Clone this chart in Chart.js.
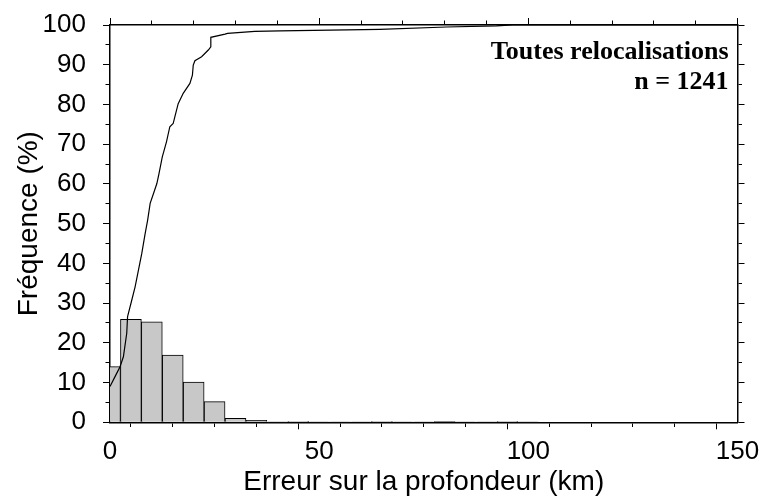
<!DOCTYPE html>
<html>
<head>
<meta charset="utf-8">
<script src="https://cdn.jsdelivr.net/npm/chart.js@4"></script>
<style>
  html, body { margin: 0; padding: 0; background: #fff; }
  #wrap { width: 764px; height: 497px; }
</style>
</head>
<body>
<div id="wrap"><canvas id="myChart"></canvas></div>
<script>
// histogram: bin centres (km) and frequency (%)
const binCenters = [0, 5, 10, 15, 20, 25, 30, 35, 40, 45, 50, 55, 60, 65, 70, 75, 80, 85, 90, 95, 100, 105, 110, 115, 120, 125, 130, 135, 140, 145, 150];
const binFreq = [14.0, 25.9, 25.3, 16.9, 10.1, 5.2, 1.0, 0.5, 0.05, 0.15, 0.05, 0.05, 0.1, 0.2, 0.1, 0.1, 0.25, 0.1, 0.1, 0.15, 0.05, 0, 0, 0, 0, 0, 0, 0, 0, 0, 0];

// cumulative curve
const cumKm = [0, 1.2, 2.4, 3.2, 4.0, 4.2, 5.0, 6.0, 6.8, 7.6, 8.4, 9.0, 9.6, 10.4, 11.2, 11.7, 12.5, 13.5, 14.3, 15.1, 15.5, 16.3, 17.5, 19.1, 19.7, 19.9, 20.3, 21.9, 23.5, 24.1, 24.1, 27.5, 28.1, 34.6, 40.7, 64.5, 80.4, 92.4, 96.3, 150];
const cumPct = [9.0, 11.5, 14.0, 16.5, 22.4, 26.6, 29.9, 34.1, 38.3, 42.5, 47.5, 50.9, 55.1, 57.6, 60.1, 62.5, 66.8, 70.6, 74.4, 75.2, 76.9, 80.2, 82.8, 85.3, 87.4, 89.9, 91.0, 92.0, 93.7, 94.5, 96.9, 97.7, 97.9, 98.4, 98.5, 98.9, 99.5, 99.8, 100, 100];

const xTickLabels = [0, 50, 100, 150];
const yTickLabels = [0, 10, 20, 30, 40, 50, 60, 70, 80, 90, 100];

const noteLines = ["Toutes relocalisations", "n = 1241"];

Chart.defaults.font.family = "Liberation Sans";
Chart.defaults.color = "#000";

const ctx = document.getElementById("myChart");

// minor ticks: draw only part of the tick with a dash pattern
const minorDash = (majors, fromAxis) => (c) => {
  if (!c.tick || majors.includes(c.tick.value)) return [];
  return fromAxis ? [3.5, 100] : [0, 2.5, 4, 100];
};
const frameGrid = (majors, fromAxis) => ({
  display: true,
  drawOnChartArea: false,
  drawTicks: true,
  tickLength: 7,
  tickColor: "#000",
  tickWidth: 1,
  tickBorderDash: minorDash(majors, fromAxis),
});
const frameBorder = { display: true, color: "#000", width: 1.5 };
const xMajors = [0, 50, 100, 150];
const yMajors = [0, 10, 20, 30, 40, 50, 60, 70, 80, 90, 100];

const notePlugin = {
  id: "note",
  afterDatasetsDraw(chart) {
    const c = chart.ctx;
    const a = chart.chartArea;
    c.save();
    c.font = "bold 26px 'Liberation Serif'";
    c.fillStyle = "#000";
    c.textAlign = "right";
    c.textBaseline = "alphabetic";
    c.fillText(noteLines[0], a.right - 9, a.top + 34);
    c.fillText(noteLines[1], a.right - 9, a.top + 64);
    c.restore();
  },
};

new Chart(ctx, {
  data: {
    datasets: [
      {
        type: "line",
        label: "Cumul",
        data: cumKm.map((x, i) => ({ x: x, y: cumPct[i] })),
        borderColor: "#000",
        borderWidth: 1.2,
        pointRadius: 0,
        tension: 0,
        fill: false,
        order: 0,
      },
      {
        type: "bar",
        label: "Fréquence",
        data: binCenters.map((x, i) => ({ x: x, y: binFreq[i] })),
        backgroundColor: "#c8c8c8",
        borderColor: "#000",
        borderWidth: 1,
        barPercentage: 1,
        categoryPercentage: 1,
        clip: 0,
        order: 1,
      },
    ],
  },
  options: {
    responsive: true,
    maintainAspectRatio: false,
    animation: false,
    layout: { padding: 0 },
    plugins: { legend: { display: false }, tooltip: { enabled: false } },
    scales: {
      x: {
        type: "linear",
        position: "bottom",
        min: 0,
        max: 150,
        offset: false,
        grid: frameGrid(xMajors, true),
        border: frameBorder,
        ticks: {
          stepSize: 10,
          autoSkip: false,
          maxRotation: 0,
          padding: 7,
          font: { size: 26 },
          callback: (v) => (xTickLabels.includes(v) ? String(v) : ""),
        },
        title: {
          display: true,
          text: "Erreur sur la profondeur (km)",
          font: { size: 28, lineHeight: 1 },
          padding: { top: 0, bottom: 1 },
        },
        afterFit: (s) => { s.height = 74.7; s.paddingLeft = 0; s.paddingRight = 0; },
      },
      x2: {
        type: "linear",
        position: "top",
        min: 0,
        max: 150,
        offset: false,
        grid: frameGrid(xMajors, false),
        border: frameBorder,
        ticks: { stepSize: 10, display: false },
        afterFit: (s) => { s.height = 25; },
      },
      y: {
        type: "linear",
        position: "left",
        min: 0,
        max: 100,
        grid: frameGrid(yMajors, false),
        border: frameBorder,
        ticks: {
          stepSize: 5,
          autoSkip: false,
          padding: 17,
          font: { size: 26 },
          callback: (v) => (yTickLabels.includes(v) ? String(v) : ""),
        },
        title: {
          display: true,
          text: "Fréquence (%)",
          font: { size: 28, lineHeight: 1 },
          padding: { top: 15, bottom: 0 },
        },
        afterFit: (s) => { s.width = 110; s.paddingTop = 0; s.paddingBottom = 0; },
      },
      y2: {
        type: "linear",
        position: "right",
        min: 0,
        max: 100,
        grid: frameGrid(yMajors, true),
        border: frameBorder,
        ticks: { stepSize: 5, display: false },
        afterFit: (s) => { s.width = 26.5; s.paddingTop = 0; s.paddingBottom = 0; },
      },
    },
  },
  plugins: [notePlugin],
});
</script>
</body>
</html>
